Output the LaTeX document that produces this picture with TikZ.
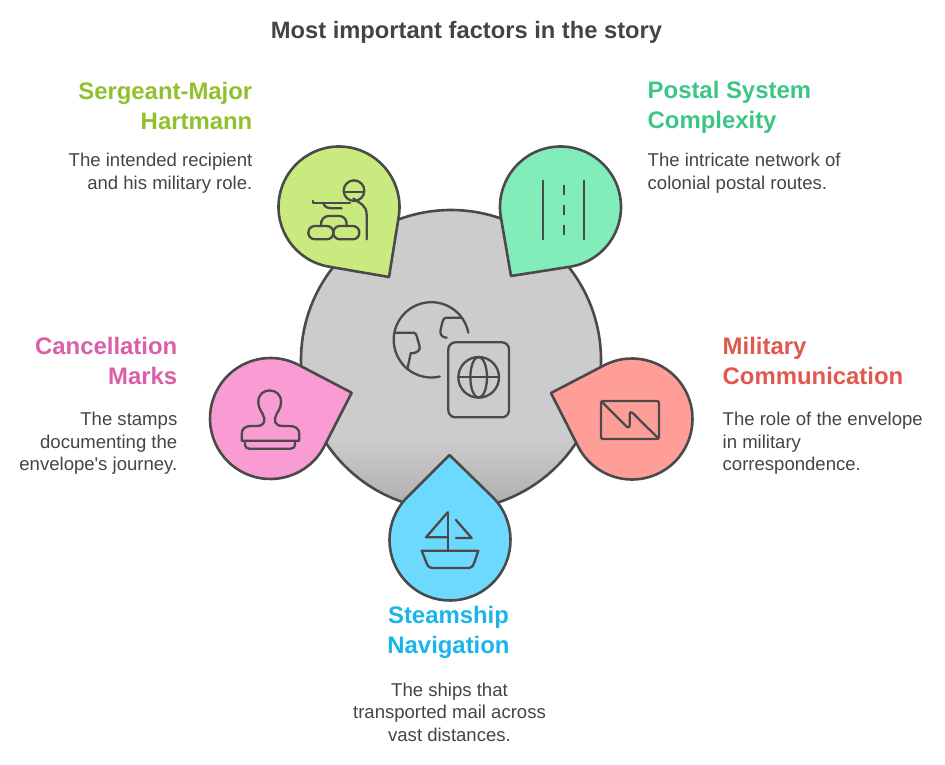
\documentclass[tikz,border=0pt]{standalone}
\usepackage{fontspec}
\setmainfont{Liberation Sans}
\definecolor{inkgray}{HTML}{4A4A4A}
\definecolor{textgray}{HTML}{444444}
\definecolor{sergeantfill}{HTML}{C9EA7F}
\definecolor{sergeanttext}{HTML}{92C02D}
\definecolor{postalfill}{HTML}{83EDB9}
\definecolor{postaltext}{HTML}{3CC583}
\definecolor{militaryfill}{HTML}{FF9E99}
\definecolor{militarytext}{HTML}{E0594F}
\definecolor{cancelfill}{HTML}{FA9CD4}
\definecolor{canceltext}{HTML}{DB5FA8}
\definecolor{steamfill}{HTML}{6DD9FF}
\definecolor{steamtext}{HTML}{19B5E8}
\pgfdeclareverticalshading{discshade}{100bp}{color(0bp)=(black!32); color(25bp)=(black!32); color(37bp)=(black!20); color(100bp)=(black!20)}
\tikzset{
  outline/.style={draw=inkgray, line width=2.6pt, line join=round},
  icon/.style={draw=inkgray, line width=2.3pt, line join=round, line cap=round},
  zoomed/.style={shift={#1}, xscale=1/3, yscale=1/3},
  title/.style={font=\bfseries\fontsize{23.7}{30}\selectfont, text=textgray},
  heading/.style={font=\bfseries\fontsize{23.9}{30}\selectfont, inner sep=0pt},
  body/.style={font=\fontsize{18.55}{22.6}\selectfont, text=textgray, inner sep=0pt},
}
\newcommand{\droplet}[5]{%
  \pgfmathsetmacro{\dropdir}{atan2(#5-#3,#4-#2)}
  \pgfmathsetmacro{\drophalf}{acos(60.5/veclen(#5-#3,#4-#2))}
  \draw[outline, fill=#1] (#4,#5) --
  ({#2+60.5*cos(\dropdir+\drophalf)}, {#3+60.5*sin(\dropdir+\drophalf)})
  arc[start angle=\dropdir+\drophalf, end angle=\dropdir-\drophalf+360, radius=60.5]
  -- cycle;
}
\begin{document}
\begin{tikzpicture}[x=1pt, y=-1pt]
  \useasboundingbox (0,0) rectangle (945,765);

  \node[title] (headline) at (466.5,32) {Most important factors in the story};

  \shade[shading=discshade, outline] (451,360) circle (150);

  % globe and passport
  \begin{scope}[zoomed={(200,290)}]
    \draw[icon] (805,128) arc[start angle=-11, end angle=-283, radius=113];
    \draw[icon] (585,128) -- (640,128) .. controls (652,128) and (650,145) .. (658,165)
      .. controls (664,182) and (650,190) .. (632,190) -- (622,238);
    \draw[icon] (785,83) -- (740,83) .. controls (728,83) and (728,95) .. (722,118)
      .. controls (718,135) and (728,143) .. (740,143);
    \draw[icon, rounded corners=7pt] (745,157) rectangle (927,382);
    \draw[icon] (836,262) circle (61);
    \draw[icon] (775,262) -- (897,262);
    \draw[icon] (836,262) ellipse (25 and 61);
  \end{scope}

  \droplet{sergeantfill}{339}{207}{389}{277}
  \droplet{postalfill}{560.5}{207}{511}{276}
  \droplet{cancelfill}{270.5}{418.5}{351.7}{392.7}
  \droplet{militaryfill}{632}{419}{551}{393}
  \droplet{steamfill}{450}{540}{449.5}{455}

  % soldier
  \begin{scope}[zoomed={(270,140)}]
    \draw[icon] (252,152) circle (31);
    \draw[icon] (221,155) -- (283,155);
    \draw[icon] (250,176) .. controls (270,190) and (290,195) .. (290,225) -- (290,298);
    \draw[icon] (130,182) -- (130,190) -- (240,190);
    \draw[icon] (160,190) .. controls (165,203) and (175,205) .. (185,205) -- (215,205);
    \draw[icon, rounded corners=6.5pt] (115,258) rectangle (190,298);
    \draw[icon, rounded corners=6.5pt] (190,258) rectangle (268,298);
    \draw[icon] (153,258) .. controls (150,238) and (165,228) .. (175,228) -- (208,228)
      .. controls (222,228) and (232,240) .. (230,258);
  \end{scope}

  % road
  \begin{scope}[zoomed={(270,140)}]
    \draw[icon] (820,122) -- (820,298);
    \draw[icon] (942,122) -- (942,298);
    \draw[icon] (881,137) -- (881,163);
    \draw[icon] (881,197) -- (881,223);
    \draw[icon] (881,257) -- (881,283);
  \end{scope}

  % stamp
  \begin{scope}[zoomed={(200,290)}]
    \draw[icon] (125,452) -- (125,432) .. controls (125,415) and (138,408) .. (152,408) -- (170,408)
      .. controls (195,408) and (198,390) .. (188,372) .. controls (178,355) and (175,348) .. (175,335)
      .. controls (175,290) and (243,290) .. (243,335) .. controls (243,348) and (240,355) .. (230,372)
      .. controls (220,390) and (223,408) .. (248,408) -- (268,408)
      .. controls (285,408) and (298,415) .. (298,432) -- (298,452) -- cycle;
    \draw[icon] (135,454) -- (135,464) .. controls (135,472) and (140,476) .. (148,476) -- (272,476)
      .. controls (280,476) and (285,472) .. (285,464) -- (285,454);
  \end{scope}

  % envelope
  \begin{scope}[zoomed={(380,340)}]
    \draw[icon, rounded corners=2pt] (663,183) rectangle (837,297);
    \draw[icon] (665,185) -- (738,258) .. controls (746,266) and (749,262) .. (749,254)
      -- (749,225) .. controls (749,216) and (753,214) .. (760,221) -- (835,295);
  \end{scope}

  % boat
  \begin{scope}[zoomed={(380,340)}]
    \draw[icon] (203,517) -- (203,630);
    \draw[icon] (203,517) -- (138,592) -- (203,592);
    \draw[icon] (228,540) -- (275,594) -- (228,594);
    \draw[icon] (125,632) -- (295,632) -- (282,670) .. controls (279,680) and (272,684) .. (262,684)
      -- (160,684) .. controls (150,684) and (143,680) .. (140,670) -- cycle;
  \end{scope}

  \node[heading, text=sergeanttext, align=right, anchor=east] (sergeant) at (252.5,105.5) {Sergeant-Major\\Hartmann};
  \node[body, align=right, anchor=east] (sergeantnote) at (252.5,173) {The intended recipient\\and his military role.};

  \node[heading, text=postaltext, align=left, anchor=west] (postal) at (647.5,107.5) {Postal System\\Complexity};
  \node[body, align=left, anchor=west] (postalnote) at (647.5,173.5) {The intricate network of\\colonial postal routes.};

  \node[heading, text=canceltext, align=right, anchor=east] (cancel) at (177.5,360.5) {Cancellation\\Marks};
  \node[body, align=right, anchor=east] (cancelnote) at (177.5,443.5) {The stamps\\documenting the\\envelope\textquotesingle s journey.};

  \node[heading, text=militarytext, align=left, anchor=west] (military) at (722.5,360.5) {Military\\Communication};
  \node[body, align=left, anchor=west] (militarynote) at (722.5,443.5) {The role of the envelope\\in military\\correspondence.};

  \node[heading, text=steamtext, align=center] (steam) at (448.5,632.5) {Steamship\\Navigation};
  \node[body, align=center] (steamnote) at (449.5,712) {The ships that\\transported mail across\\vast distances.};
\end{tikzpicture}
\end{document}
